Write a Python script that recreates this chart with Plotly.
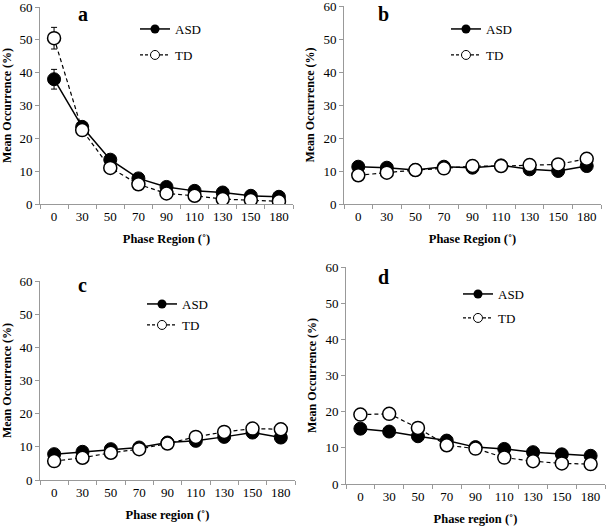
import plotly.graph_objects as go

phase = ["0", "30", "50", "70", "90", "110", "130", "150", "180"]

a_asd = [38.0, 23.5, 13.5, 7.8, 5.2, 4.0, 3.5, 2.5, 2.2]
a_asd_err = [3.0, 1.0, 0.9, 0.7, 0.6, 0.5, 0.5, 0.4, 0.4]
a_td = [50.5, 22.5, 11.0, 6.0, 3.2, 2.5, 1.5, 1.2, 0.8]
a_td_err = [3.3, 1.0, 0.9, 0.7, 0.5, 0.4, 0.4, 0.3, 0.3]

b_asd = [11.3, 11.0, 10.3, 11.3, 11.0, 11.7, 10.5, 10.0, 11.5]
b_asd_err = [0.8, 0.6, 0.5, 0.6, 0.6, 0.6, 0.6, 0.7, 1.5]
b_td = [8.7, 9.5, 10.3, 10.8, 11.5, 11.5, 11.8, 12.0, 13.7]
b_td_err = [0.6, 0.6, 0.5, 0.5, 0.6, 0.6, 0.6, 0.7, 1.0]

c_asd = [7.8, 8.5, 9.3, 9.8, 11.3, 11.8, 13.0, 14.3, 12.8]
c_asd_err = [0.6, 0.6, 0.6, 0.6, 0.7, 0.7, 0.8, 0.8, 0.9]
c_td = [5.7, 6.7, 8.2, 9.3, 11.0, 13.0, 14.5, 15.5, 15.3]
c_td_err = [0.5, 0.5, 0.6, 0.6, 0.7, 0.8, 0.8, 0.8, 0.9]

d_asd = [15.3, 14.5, 13.2, 12.0, 10.2, 9.7, 8.8, 8.2, 7.8]
d_asd_err = [0.8, 0.7, 0.7, 0.6, 0.6, 0.6, 0.5, 0.5, 0.5]
d_td = [19.2, 19.4, 15.5, 10.7, 9.8, 7.3, 6.3, 5.7, 5.5]
d_td_err = [0.9, 0.9, 0.8, 0.6, 0.6, 0.5, 0.5, 0.5, 0.5]

panels = ["a", "b", "c", "d"]
x_titles = ["Phase Region (˚)", "Phase Region (˚)", "Phase region (˚)", "Phase region (˚)"]
W, H = 609, 528
# pixel boxes: (x0, x1, ytop, ybottom)
boxes = [(40, 293, 7, 204), (344, 601, 6, 204), (40, 295, 281, 480), (346, 605, 267, 484)]
# legend marker centre pixels: (x, y_asd, y_td)
legend_pos = [(160, 29, 55), (471, 29, 55), (167, 304, 325), (483, 294, 318)]
label_pos = [(83, 14), (383, 14), (82, 285), (383, 277)]

series = [(a_asd, a_asd_err, a_td, a_td_err), (b_asd, b_asd_err, b_td, b_td_err),
          (c_asd, c_asd_err, c_td, c_td_err), (d_asd, d_asd_err, d_td, d_td_err)]

FONT = "Liberation Serif"
DASH = "4px,3px"
fig = go.Figure()
layout = dict(width=W, height=H, margin=dict(l=0, r=0, t=0, b=0, autoexpand=False),
              paper_bgcolor="white", plot_bgcolor="white", showlegend=True,
              font=dict(family=FONT, color="black"))
annotations = []
for i, (p, (asd, asde, td, tde)) in enumerate(zip(panels, series)):
    n = "" if i == 0 else str(i + 1)
    xa, ya = "x" + n, "y" + n
    lg1 = "legend" + ("" if i == 0 else str(2 * i + 1))
    lg2 = "legend" + str(2 * i + 2)
    fig.add_trace(go.Scatter(x=phase, y=asd, name="ASD", xaxis=xa, yaxis=ya, showlegend=False,
                             mode="lines+markers",
                             line=dict(color="black", width=1.5),
                             marker=dict(size=13, color="black", line=dict(color="black", width=1)),
                             error_y=dict(type="data", array=asde, color="black", thickness=1, width=3)))
    fig.add_trace(go.Scatter(x=phase, y=td, name="TD", xaxis=xa, yaxis=ya, showlegend=False,
                             mode="lines+markers",
                             line=dict(color="black", width=1.2, dash=DASH),
                             marker=dict(size=13, color="white", line=dict(color="black", width=1.5)),
                             error_y=dict(type="data", array=tde, color="black", thickness=1, width=3)))
    # legend entries (no data)
    fig.add_trace(go.Scatter(x=[None], y=[None], name="ASD", xaxis=xa, yaxis=ya, legend=lg1,
                             mode="lines+markers", line=dict(color="black", width=1.5),
                             marker=dict(size=9, color="black")))
    fig.add_trace(go.Scatter(x=[None], y=[None], name="TD", xaxis=xa, yaxis=ya, legend=lg2,
                             mode="lines+markers", line=dict(color="black", width=1.2, dash="3px,2px"),
                             marker=dict(size=9, color="white", line=dict(color="black", width=1))))
    x0, x1, yt, yb = boxes[i]
    layout["xaxis" + n] = dict(domain=[x0 / W, x1 / W], anchor=ya, type="category",
                               range=[-0.5, 8.5], tickson="boundaries", ticks="outside",
                               ticklen=4, tickcolor="#999", showline=True, linecolor="#999",
                               linewidth=1, showgrid=False, zeroline=False, tickangle=0,
                               automargin=False, ticklabeloverflow="allow",
                               tickfont=dict(family=FONT, size=13, color="black"),
                               title=dict(text="<b>" + x_titles[i] + "</b>", standoff=11,
                                          font=dict(family=FONT, size=12.5, color="black")))
    layout["yaxis" + n] = dict(domain=[(H - yb) / H, (H - yt) / H], anchor=xa,
                               range=[0, 60], dtick=10, ticks="outside", ticklen=4,
                               tickcolor="#999", showline=True, linecolor="#999",
                               linewidth=1, showgrid=False, zeroline=False, automargin=False,
                               ticklabeloverflow="allow",
                               tickfont=dict(family=FONT, size=13, color="black"),
                               title=dict(text="<b>Mean Occurrence (%)</b>", standoff=6,
                                          font=dict(family=FONT, size=12, color="black")))
    lx, ly1, ly2 = legend_pos[i]
    for lg, ly in ((lg1, ly1), (lg2, ly2)):
        layout[lg] = dict(x=(lx - 25) / W, y=(H - ly) / H, xanchor="left", yanchor="middle",
                          bgcolor="rgba(0,0,0,0)", itemsizing="trace",
                          font=dict(family=FONT, size=13, color="black"))
    cx, cy = label_pos[i]
    annotations.append(dict(text="<b>" + p + "</b>", x=cx / W, y=(H - cy) / H,
                            xref="paper", yref="paper", showarrow=False,
                            xanchor="center", yanchor="middle",
                            font=dict(family=FONT, size=20, color="black")))
layout["annotations"] = annotations
fig.update_layout(**layout)
fig.write_html("out.html", config={"displayModeBar": False},
               post_script="document.body.style.margin='0';")
